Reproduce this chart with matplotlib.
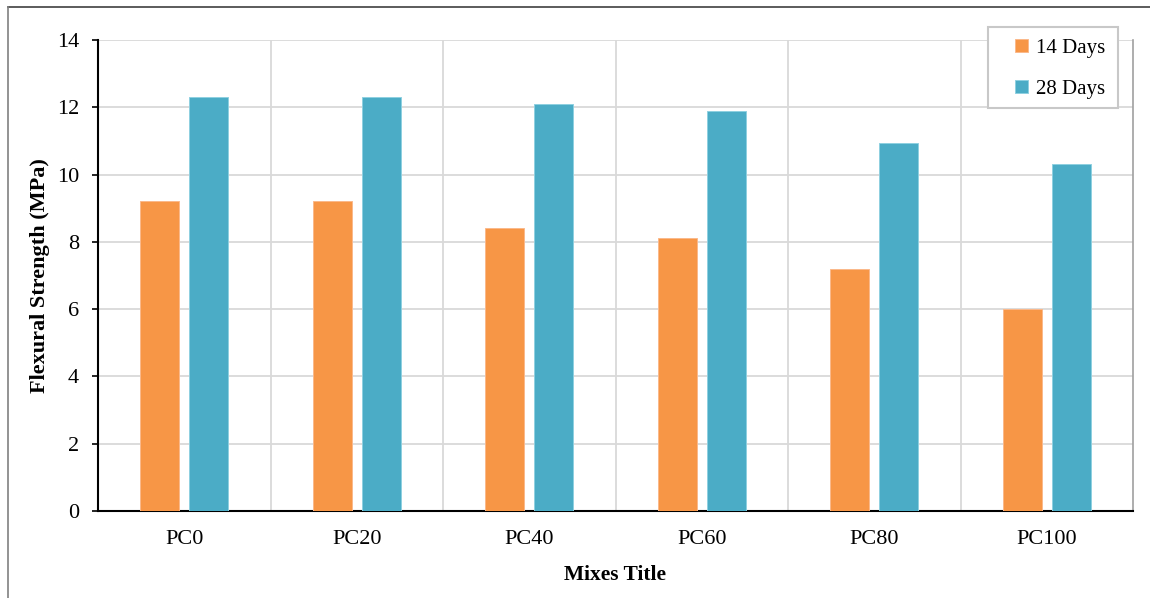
import matplotlib.pyplot as plt
from matplotlib.lines import Line2D
from matplotlib.patches import Rectangle
import numpy as np

plt.rcParams['font.family'] = ['Liberation Serif', 'DejaVu Serif']

# data
mixes = ['PC0', 'PC20', 'PC40', 'PC60', 'PC80', 'PC100']
days14 = [9.2, 9.2, 8.4, 8.1, 7.2, 6.0]
days28 = [12.3, 12.3, 12.1, 11.9, 10.95, 10.3]

orange = '#F79646'
blue = '#4BACC6'

W, H = 1150, 598
fig = plt.figure(figsize=(11.5, 5.98), dpi=100)
ax = fig.add_axes([98 / W, 87 / H, 1035 / W, 471 / H])

x = np.arange(len(mixes))
w = 0.226
off = 0.143
b1 = ax.bar(x - off, days14, w, color=orange, edgecolor='#FBB98B', linewidth=0.7,
            label='14 Days', zorder=3)
b2 = ax.bar(x + off, days28, w, color=blue, edgecolor='#8FD0E0', linewidth=0.7,
            label='28 Days', zorder=3)

ax.set_xlim(-0.5, len(mixes) - 0.5)
ax.set_ylim(0, 14)
ax.set_yticks(range(0, 15, 2))
ax.set_xticks(x)
ax.set_xticklabels(mixes)
ax.set_xticks(np.arange(0.5, len(mixes) - 1, 1), minor=True)

ax.grid(axis='y', which='major', color='#d9d9d9', linewidth=1.3, zorder=0)
ax.grid(axis='x', which='minor', color='#d9d9d9', linewidth=1.3, zorder=0)
ax.set_axisbelow(True)

ax.tick_params(axis='y', direction='out', length=4.5, width=1.2, labelsize=16, pad=9)
ax.tick_params(axis='x', which='both', length=0, labelsize=16, pad=14)

for s in ['left', 'bottom']:
    ax.spines[s].set_color('black')
    ax.spines[s].set_linewidth(1.5)
ax.spines['top'].set_visible(False)
ax.spines['right'].set_color('#a0a0a0')
ax.spines['right'].set_linewidth(1.2)

ax.set_ylabel('Flexural Strength (MPa)', fontsize=16, fontweight='bold', labelpad=5)
ax.set_xlabel('Mixes Title', fontsize=15.5, fontweight='bold', labelpad=11)

# legend frame drawn separately, legend on top of it
fig.add_artist(Rectangle((988 / W, 1 - 108 / H), 130 / W, 81 / H,
                         transform=fig.transFigure, facecolor='white',
                         edgecolor='#c8c8c8', linewidth=1.5, zorder=5))
leg = fig.legend(handles=[b1, b2], labels=['14 Days', '28 Days'],
                 loc='upper left', bbox_to_anchor=(1015 / W, 1 - 39 / H),
                 bbox_transform=fig.transFigure, fontsize=15, frameon=False,
                 handlelength=0.6, handleheight=0.6, handletextpad=0.4,
                 labelspacing=1.05, borderpad=0, borderaxespad=0)
leg.set_zorder(6)

# outer chart border (top and left edges only visible)
fig.add_artist(Line2D([8 / W, 1], [591 / H, 591 / H], color='#404040',
                      linewidth=1.2, transform=fig.transFigure))
fig.add_artist(Line2D([8 / W, 8 / W], [0, 591 / H], color='#808080',
                      linewidth=1.2, transform=fig.transFigure))

fig.savefig('out.png', dpi=100)
